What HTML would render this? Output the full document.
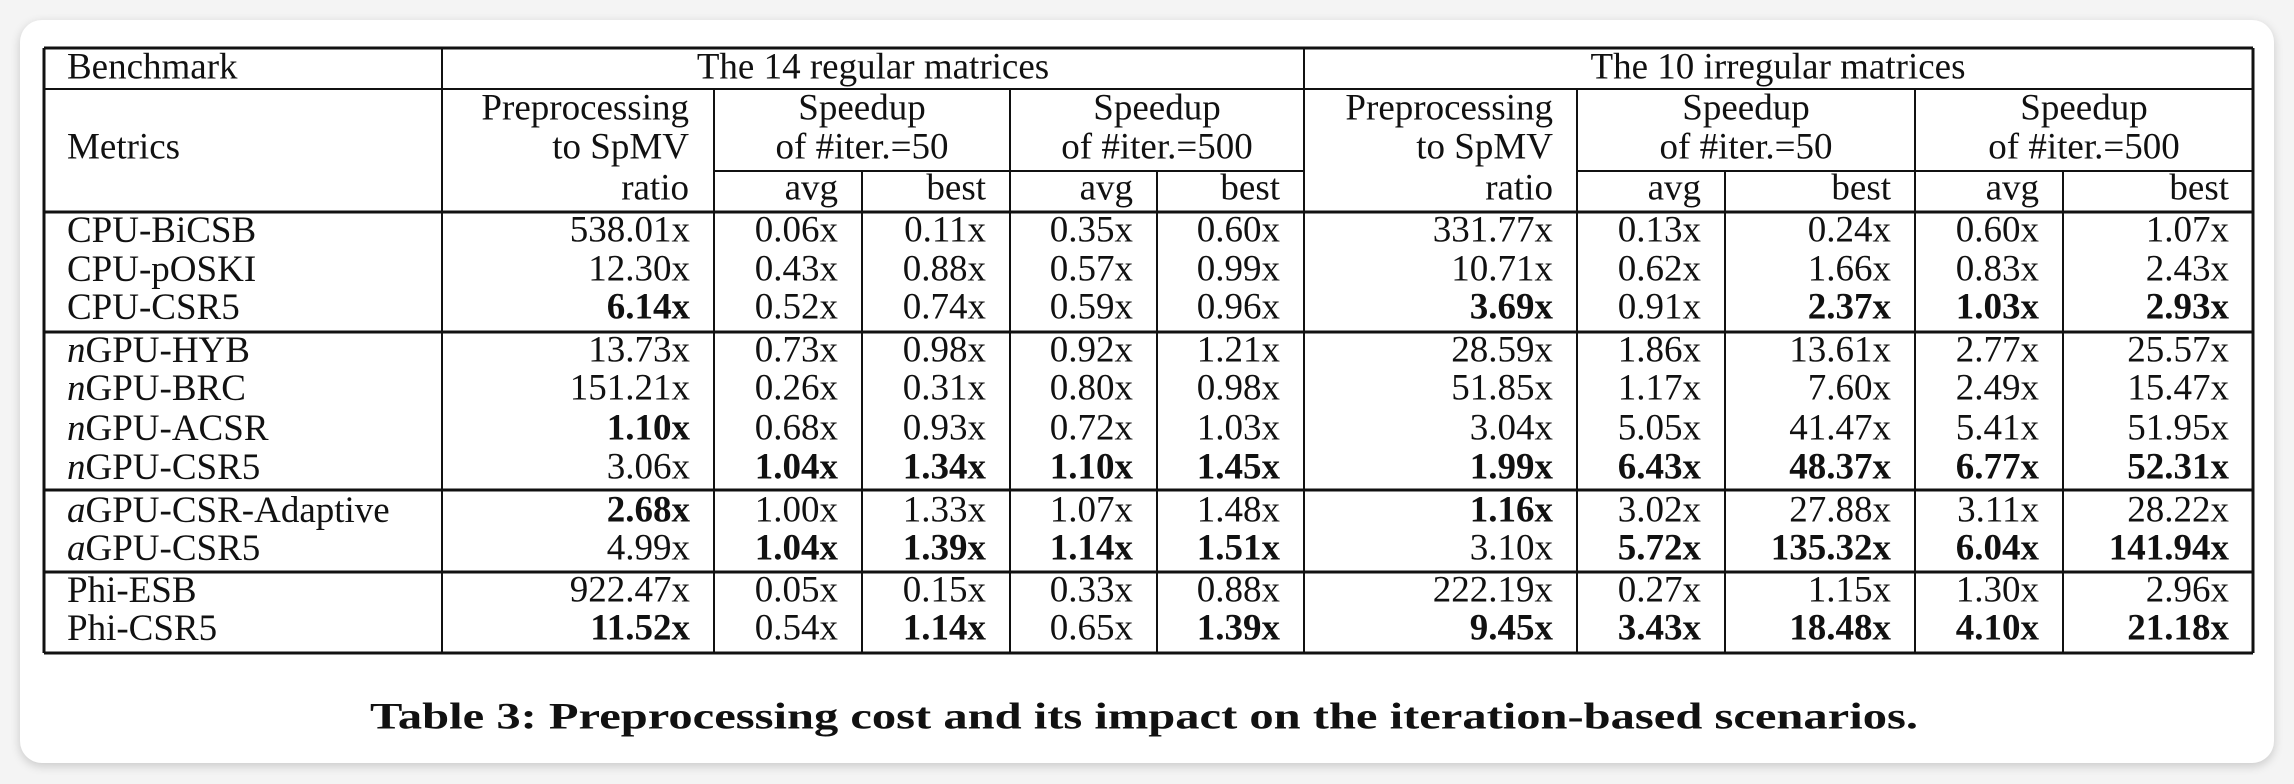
<!DOCTYPE html>
<html><head><meta charset="utf-8">
<style>
html,body{margin:0;padding:0;background:#f4f4f4;}
body{width:2294px;height:784px;position:relative;overflow:hidden;}
#card{position:absolute;left:20px;top:20px;width:2254px;height:743px;background:#fff;border-radius:22px;box-shadow:0 3px 10px rgba(0,0,0,0.18);}
svg{position:absolute;left:0;top:0;}
text{font-family:"Liberation Serif",serif;font-size:37px;fill:#111;}
</style></head>
<body>
<div id="card"></div>
<svg id="tbl" width="2294" height="784"></svg>
<script>
const rowNames=[["","CPU-BiCSB"],["","CPU-pOSKI"],["","CPU-CSR5"],["n","GPU-HYB"],["n","GPU-BRC"],["n","GPU-ACSR"],["n","GPU-CSR5"],["a","GPU-CSR-Adaptive"],["a","GPU-CSR5"],["","Phi-ESB"],["","Phi-CSR5"]];
const values=[
["538.01x","0.06x","0.11x","0.35x","0.60x","331.77x","0.13x","0.24x","0.60x","1.07x"],
["12.30x","0.43x","0.88x","0.57x","0.99x","10.71x","0.62x","1.66x","0.83x","2.43x"],
["*6.14x","0.52x","0.74x","0.59x","0.96x","*3.69x","0.91x","*2.37x","*1.03x","*2.93x"],
["13.73x","0.73x","0.98x","0.92x","1.21x","28.59x","1.86x","13.61x","2.77x","25.57x"],
["151.21x","0.26x","0.31x","0.80x","0.98x","51.85x","1.17x","7.60x","2.49x","15.47x"],
["*1.10x","0.68x","0.93x","0.72x","1.03x","3.04x","5.05x","41.47x","5.41x","51.95x"],
["3.06x","*1.04x","*1.34x","*1.10x","*1.45x","*1.99x","*6.43x","*48.37x","*6.77x","*52.31x"],
["*2.68x","1.00x","1.33x","1.07x","1.48x","*1.16x","3.02x","27.88x","3.11x","28.22x"],
["4.99x","*1.04x","*1.39x","*1.14x","*1.51x","3.10x","*5.72x","*135.32x","*6.04x","*141.94x"],
["922.47x","0.05x","0.15x","0.33x","0.88x","222.19x","0.27x","1.15x","1.30x","2.96x"],
["*11.52x","0.54x","*1.14x","0.65x","*1.39x","*9.45x","*3.43x","*18.48x","*4.10x","*21.18x"]];
const rowY=[230,269,307,350,388,428,467,510,548,590,628];
const NS="http://www.w3.org/2000/svg";
const svg=document.getElementById('tbl');
function line(x1,y1,x2,y2,w,name){
  const l=document.createElementNS(NS,'line');
  l.setAttribute('x1',x1);l.setAttribute('y1',y1);l.setAttribute('x2',x2);l.setAttribute('y2',y2);
  l.setAttribute('stroke','#111');l.setAttribute('stroke-width',w);
  
  
  svg.appendChild(l);
}
function txt(x,y,s,anchor,name,bold,size){
  const t=document.createElementNS(NS,'text');
  t.setAttribute('x',x);t.setAttribute('y',y);
  t.setAttribute('text-anchor',anchor);t.setAttribute('dominant-baseline','central');
  if(bold)t.setAttribute('font-weight','bold');
  if(size)t.setAttribute('style','font-size:'+size+'px');
  t.textContent=s;
  
  
  svg.appendChild(t);return t;
}
line(44,48,2253,48,3,'table-top-border');
line(44,89,2253,89,2,'header-rule');
line(714,171,1304,171,2,'speedup-rule-regular');
line(1577,171,2253,171,2,'speedup-rule-irregular');
line(44,212,2253,212,3,'header-bottom-rule');
line(44,332,2253,332,3,'group-rule-1');
line(44,490,2253,490,3,'group-rule-2');
line(44,572,2253,572,3,'group-rule-3');
line(44,653,2253,653,3,'table-bottom-border');
line(44,48,44,653,3,'left-border');
line(2253,48,2253,653,3,'right-border');
line(442,48,442,653,2,'col-sep-bench');
line(1304,48,1304,653,2,'col-sep-groups');
[714,1010,1577,1915].forEach(x=>line(x,89,x,653,2,'col-sep-major'));
[862,1157,1725,2063].forEach(x=>line(x,171,x,653,2,'col-sep-minor'));
txt(67,67,'Benchmark','start','benchmark-header');
txt(873,67,'The 14 regular matrices','middle','regular-group-header');
txt(1778,67,'The 10 irregular matrices','middle','irregular-group-header');
txt(67,147,'Metrics','start','metrics-header');
[689,1553].forEach(x=>{
  txt(x,108,'Preprocessing','end','preprocessing-header');
  txt(x,147,'to SpMV','end','preprocessing-header-2');
  txt(x,188,'ratio','end','ratio-header');
});
[[714,1010,'50'],[1010,1304,'500'],[1577,1915,'50'],[1915,2253,'500']].forEach(s=>{
  const c=(s[0]+s[1])/2;
  txt(c,108,'Speedup','middle','speedup-header');
  txt(c,147,'of #iter.='+s[2],'middle','iter-header');
});
[[862,'avg'],[1010,'best'],[1157,'avg'],[1304,'best'],[1725,'avg'],[1915,'best'],[2063,'avg'],[2253,'best']].forEach(s=>txt(s[0]-24,188,s[1],'end','subcol-header'));
const rights=[714,862,1010,1157,1304,1577,1725,1915,2063,2253];
rowNames.forEach((r,i)=>{
  const t=txt(67,rowY[i],'','start','row-label');
  if(r[0]){const a=document.createElementNS(NS,'tspan');a.setAttribute('font-style','italic');a.textContent=r[0];t.appendChild(a);}
  const b=document.createElementNS(NS,'tspan');b.textContent=r[1];t.appendChild(b);
  values[i].forEach((v,j)=>{
    const bold=v[0]==='*';
    txt(rights[j]-24,rowY[i],bold?v.slice(1):v,'end','value-cell',bold);
  });
});
const cap=txt(1144,717,'Table 3: Preprocessing cost and its impact on the iteration-based scenarios.','middle','table-caption',true,37);
cap.setAttribute('textLength','1548');
cap.setAttribute('lengthAdjust','spacingAndGlyphs');
</script>
</body></html>
